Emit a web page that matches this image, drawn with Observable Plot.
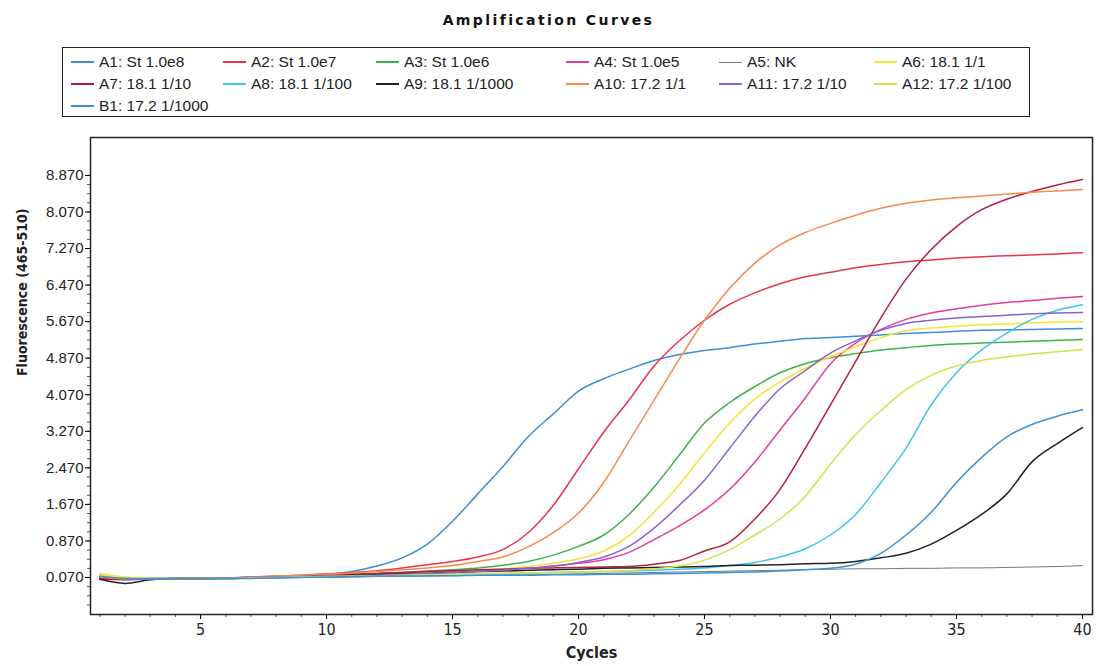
<!DOCTYPE html>
<html>
<head>
<meta charset="utf-8">
<script src="https://cdn.jsdelivr.net/npm/d3@7"></script>
<script src="https://cdn.jsdelivr.net/npm/@observablehq/plot@0.6"></script>
<style>
  html, body { margin: 0; padding: 0; background: #fff; }
  body { width: 1097px; height: 666px; position: relative; overflow: hidden; font-family: "Liberation Sans", Arial, sans-serif; }
  #title { position: absolute; left: 0; width: 1097px; top: 12px; text-align: center; font-family: "DejaVu Sans", Verdana, sans-serif; font-weight: bold; font-size: 14px; letter-spacing: 2.4px; color: #111; }
  #legend { position: absolute; left: 62px; top: 47px; width: 968px; height: 70px; border: 1px solid #222; box-sizing: border-box; }
  .item { position: absolute; height: 20px; display: flex; align-items: center; white-space: nowrap; font-size: 15.5px; color: #222; }
  .sw { width: 23px; height: 2px; margin-right: 5px; }
  #chart { position: absolute; left: 0; top: 125px; }
</style>
</head>
<body>
<div id="title">Amplification Curves</div>
<div id="legend"></div>
<div id="chart"></div>
<script>
const cycles = d3.range(1, 41);
const wells = ["A1: St 1.0e8","A2: St 1.0e7","A3: St 1.0e6","A4: St 1.0e5","A5: NK","A6: 18.1 1/1","A7: 18.1 1/10","A8: 18.1 1/100","A9: 18.1 1/1000","A10: 17.2 1/1","A11: 17.2 1/10","A12: 17.2 1/100","B1: 17.2 1/1000"];
const colors = ["#3b8fd4","#e8344e","#3cb34a","#e43c9c","#777777","#f5e236","#b51f3d","#3ec6ea","#222222","#f58a4b","#8a63d2","#d6e04a","#3a93d8"];

const a1 = [0.10,0.05,0.05,0.05,0.04,0.04,0.06,0.07,0.09,0.13,0.20,0.32,0.50,0.80,1.30,1.90,2.50,3.15,3.65,4.15,4.42,4.63,4.82,4.95,5.04,5.10,5.18,5.24,5.30,5.32,5.35,5.38,5.41,5.43,5.46,5.48,5.49,5.50,5.51,5.52];
const a2 = [0.05,0.03,0.04,0.05,0.05,0.06,0.08,0.10,0.12,0.15,0.18,0.22,0.28,0.35,0.42,0.52,0.68,1.05,1.65,2.45,3.25,3.95,4.70,5.25,5.70,6.05,6.30,6.50,6.65,6.75,6.85,6.92,6.98,7.02,7.06,7.09,7.11,7.13,7.15,7.18];
const a3 = [0.08,0.05,0.05,0.05,0.05,0.06,0.07,0.09,0.10,0.12,0.14,0.16,0.18,0.21,0.24,0.28,0.34,0.42,0.56,0.75,1.00,1.45,2.05,2.75,3.45,3.90,4.25,4.55,4.75,4.88,4.97,5.05,5.10,5.15,5.18,5.20,5.22,5.24,5.26,5.28];
const a4 = [0.06,0.03,0.04,0.05,0.05,0.06,0.07,0.08,0.10,0.12,0.14,0.15,0.17,0.18,0.20,0.22,0.24,0.27,0.32,0.38,0.46,0.62,0.90,1.20,1.55,2.00,2.60,3.30,4.00,4.75,5.20,5.50,5.72,5.86,5.95,6.03,6.09,6.13,6.18,6.22];
const a5 = [0.08,0.05,0.05,0.05,0.05,0.05,0.06,0.06,0.07,0.07,0.08,0.09,0.10,0.10,0.11,0.12,0.13,0.13,0.14,0.15,0.16,0.17,0.18,0.19,0.20,0.21,0.22,0.23,0.24,0.25,0.26,0.26,0.27,0.27,0.28,0.28,0.29,0.30,0.31,0.33];
const a6 = [0.15,0.08,0.05,0.05,0.05,0.06,0.07,0.08,0.09,0.10,0.12,0.13,0.15,0.17,0.19,0.22,0.26,0.31,0.38,0.48,0.65,0.98,1.50,2.10,2.80,3.45,3.98,4.35,4.65,4.90,5.12,5.32,5.47,5.53,5.57,5.60,5.62,5.64,5.66,5.67];
const a7 = [0.04,0.02,0.04,0.05,0.05,0.06,0.07,0.08,0.10,0.12,0.14,0.16,0.18,0.20,0.22,0.24,0.25,0.27,0.28,0.29,0.30,0.31,0.36,0.44,0.65,0.85,1.35,2.00,2.90,3.85,4.80,5.75,6.60,7.25,7.75,8.12,8.35,8.52,8.66,8.78];
const a8 = [0.10,0.05,0.05,0.05,0.05,0.05,0.06,0.07,0.08,0.09,0.10,0.11,0.12,0.13,0.14,0.15,0.16,0.17,0.18,0.19,0.20,0.21,0.23,0.25,0.28,0.33,0.40,0.52,0.70,1.00,1.45,2.15,2.90,3.85,4.55,5.05,5.42,5.72,5.92,6.04];
const a9 = [0.03,-0.06,0.02,0.05,0.05,0.06,0.07,0.08,0.09,0.10,0.12,0.13,0.15,0.16,0.18,0.20,0.21,0.23,0.24,0.25,0.27,0.28,0.29,0.30,0.31,0.33,0.34,0.35,0.37,0.38,0.42,0.50,0.60,0.80,1.10,1.45,1.90,2.60,3.00,3.35];
const a10 = [0.08,0.04,0.05,0.05,0.05,0.06,0.08,0.10,0.12,0.14,0.17,0.20,0.24,0.28,0.33,0.42,0.52,0.74,1.05,1.48,2.15,3.05,3.95,4.85,5.70,6.40,6.95,7.35,7.62,7.82,8.00,8.15,8.26,8.33,8.38,8.42,8.46,8.50,8.53,8.56];
const a11 = [0.10,0.05,0.04,0.05,0.05,0.06,0.07,0.08,0.09,0.10,0.11,0.12,0.14,0.16,0.18,0.20,0.23,0.27,0.32,0.40,0.52,0.75,1.15,1.65,2.20,2.90,3.60,4.20,4.60,4.98,5.25,5.48,5.63,5.70,5.75,5.78,5.81,5.84,5.86,5.87];
const a12 = [0.12,0.06,0.05,0.05,0.05,0.05,0.06,0.07,0.08,0.09,0.10,0.11,0.12,0.13,0.14,0.15,0.16,0.17,0.18,0.19,0.20,0.22,0.26,0.32,0.45,0.68,1.00,1.35,1.85,2.55,3.20,3.72,4.18,4.50,4.70,4.82,4.90,4.96,5.01,5.06];
const b1 = [0.10,0.05,0.04,0.04,0.04,0.04,0.05,0.06,0.07,0.08,0.09,0.10,0.10,0.11,0.11,0.12,0.12,0.12,0.13,0.13,0.14,0.14,0.15,0.16,0.17,0.18,0.19,0.21,0.24,0.27,0.36,0.60,1.00,1.50,2.15,2.70,3.15,3.42,3.60,3.74];

const yTicks = [0.07,0.87,1.67,2.47,3.27,4.07,4.87,5.67,6.47,7.27,8.07,8.87];
const xTicks = [5,10,15,20,25,30,35,40];

const seriesValues = [a1,a2,a3,a4,a5,a6,a7,a8,a9,a10,a11,a12,b1];
const rows = [];
seriesValues.forEach((vals, i) => vals.forEach((v, j) => rows.push({well: wells[i], cycle: cycles[j], value: v})));

// Legend (HTML)
const colX = [8, 160, 313, 503, 656, 811];
const rowY = [4, 26, 48];
const legend = document.getElementById("legend");
wells.forEach((w, i) => {
  const it = document.createElement("div");
  it.className = "item";
  it.style.left = colX[i % 6] + "px";
  it.style.top = rowY[Math.floor(i / 6)] + "px";
  const sw = document.createElement("span");
  sw.className = "sw";
  sw.style.background = colors[i];
  if (w === "A5: NK") { sw.style.height = "1px"; }
  it.appendChild(sw);
  const t = document.createElement("span");
  t.textContent = w;
  it.appendChild(t);
  legend.appendChild(it);
});

const minorY = d3.range(0, 48).map(k => 0.07 + k * 0.2 - 0.6).filter(v => v > -0.7 && v < 9.6);
const minorX = d3.range(1, 41);

const chart = Plot.plot({
  width: 1097,
  height: 541,
  marginLeft: 90,
  marginRight: 5,
  marginTop: 12,
  marginBottom: 52,
  style: {fontFamily: "'Liberation Sans', Arial, sans-serif", background: "#fff"},
  x: {domain: [0.63, 40.4]},
  y: {domain: [-0.74, 9.7]},
  color: {domain: wells, range: colors},
  marks: [
    Plot.axisY({ticks: minorY, tickSize: 3, tickFormat: () => "", label: null, stroke: "#555"}),
    Plot.axisY({ticks: yTicks, tickSize: 5, tickPadding: 2, tickFormat: d => d.toFixed(3), label: null, fontSize: 15, fill: "#222"}),
    Plot.axisX({ticks: minorX, tickSize: 3, tickFormat: () => "", label: null, stroke: "#555"}),
    Plot.axisX({ticks: xTicks, tickSize: 5, tickPadding: 4, label: null, fontSize: 16, fontFamily: "'Liberation Sans Narrow', 'DejaVu Sans Condensed', sans-serif", fill: "#222"}),
    Plot.line(rows, {x: "cycle", y: "value", z: "well", stroke: "well", strokeWidth: d => d.well === "A5: NK" ? 1 : 1.5, curve: "monotone-x"}),
    Plot.frame({stroke: "#222", strokeWidth: 1.5}),
    Plot.text(["Fluorescence (465-510)"], {frameAnchor: "left", dx: -68, rotate: -90, fontWeight: "bold", fontSize: 14, fontFamily: "'DejaVu Sans Condensed', 'Liberation Sans Narrow', sans-serif", fill: "#222"}),
    Plot.text(["Cycles"], {frameAnchor: "bottom", dy: 43, fontWeight: "bold", fontSize: 16, fontFamily: "'Liberation Sans Narrow', 'DejaVu Sans Condensed', sans-serif", fill: "#222"})
  ]
});
document.getElementById("chart").appendChild(chart);
</script>
</body>
</html>
